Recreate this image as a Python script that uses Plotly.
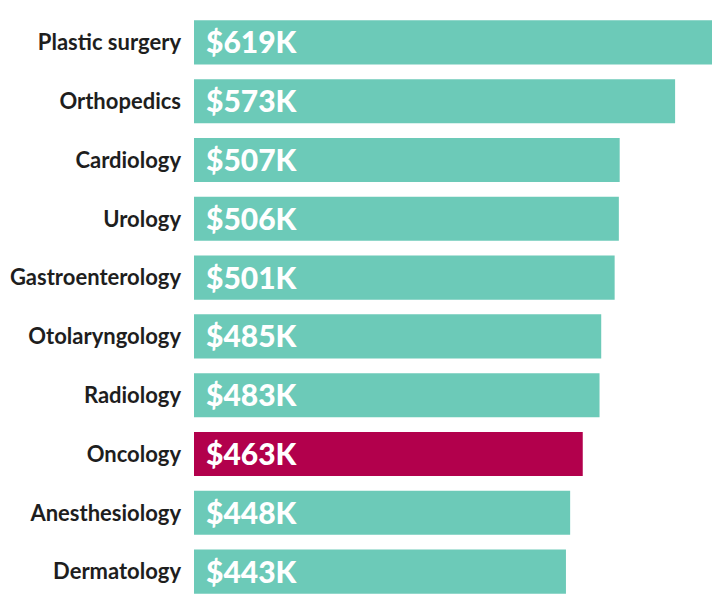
import plotly.graph_objects as go

# Data
specialties = ["Plastic surgery", "Orthopedics", "Cardiology", "Urology", "Gastroenterology",
               "Otolaryngology", "Radiology", "Oncology", "Anesthesiology", "Dermatology"]
salaries = [619, 573, 507, 506, 501, 485, 483, 463, 448, 443]  # thousands of dollars
highlight = "Oncology"

teal = "#6ccab8"
crimson = "#b2004c"
colors = [crimson if s == highlight else teal for s in specialties]

fig = go.Figure(go.Bar(
    x=salaries,
    y=specialties,
    orientation="h",
    marker=dict(color=colors, line=dict(width=0)),
    hoverinfo="skip",
))

# value labels inside the bars, left aligned
for s, v in zip(specialties, salaries):
    fig.add_annotation(
        x=0, y=s, xref="x", yref="y",
        text="$%dK" % v,
        showarrow=False,
        xanchor="left", yanchor="middle",
        xshift=10, yshift=1,
        font=dict(family="Lato", size=30, color="white", weight=900),
    )

# page body has an 8px margin, so margins are trimmed by that amount
fig.update_layout(
    width=720, height=603,
    margin=dict(l=186, r=0, t=5, b=10, autoexpand=False),
    paper_bgcolor="white",
    plot_bgcolor="white",
    bargap=0.25,
    showlegend=False,
    xaxis=dict(range=[0, 636], visible=False, fixedrange=True),
    yaxis=dict(
        autorange="reversed",
        automargin=False,
        showgrid=False, zeroline=False, showline=False,
        ticks="", ticklabelstandoff=12,
        tickfont=dict(family="Lato", size=22, color="#1e1e1e", weight="bold"),
        fixedrange=True,
    ),
)

fig.write_html("out.html", config=dict(displayModeBar=False))
